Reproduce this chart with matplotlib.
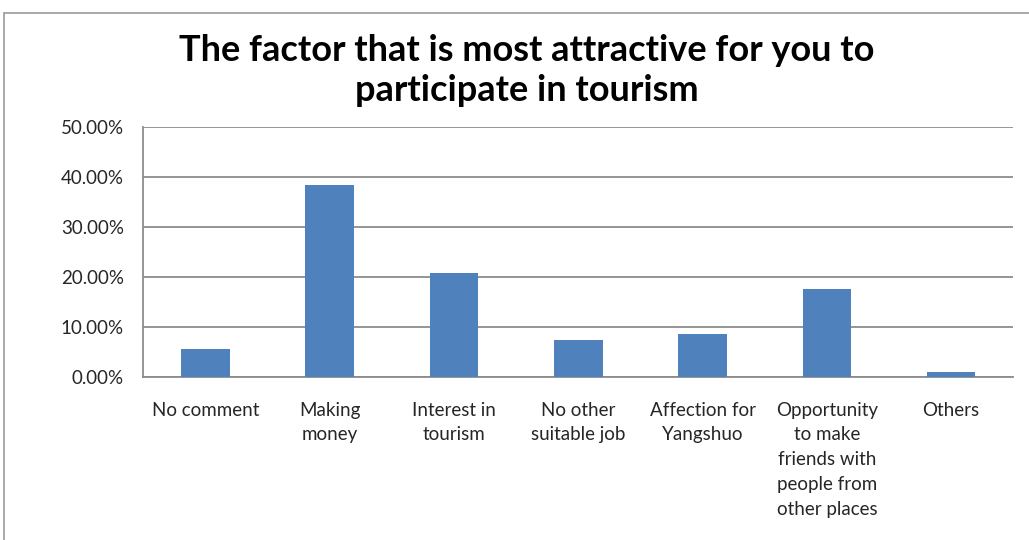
import matplotlib.pyplot as plt
from matplotlib.patches import Rectangle
from matplotlib.ticker import FuncFormatter

# survey answers, share of respondents (%)
categories = [
    "No comment",
    "Making\nmoney",
    "Interest in\ntourism",
    "No other\nsuitable job",
    "Affection for\nYangshuo",
    "Opportunity\nto make\nfriends with\npeople from\nother places",
    "Others",
]
shares = [5.5, 38.3, 20.7, 7.4, 8.6, 17.5, 1.0]
y_ticks = [0, 10, 20, 30, 40, 50]

bar_color = "#4F81BD"
grid_color = "#8C8C8C"
text_color = "#262626"
font = ["Lato", "DejaVu Sans"]

fig = plt.figure(figsize=(10.29, 5.40), dpi=100)

# chart frame
fig.patches.append(Rectangle((4 / 1029, -0.05), 1.1, 1 - 13 / 540 + 0.05,
                             transform=fig.transFigure, fill=False,
                             edgecolor="#9A9A9A", linewidth=1.2))

ax = fig.add_axes([143.3 / 1029, 1 - 376.7 / 540, 870 / 1029, 250 / 540])

x = range(len(categories))
ax.bar(x, shares, width=0.39, color=bar_color, zorder=3)

ax.set_xlim(-0.5, len(categories) - 0.5)
ax.set_ylim(0, 50)
ax.set_yticks(y_ticks)
ax.yaxis.set_major_formatter(FuncFormatter(lambda v, _: f"{v:.2f}%"))
ax.grid(axis="y", color=grid_color, linewidth=1.3, zorder=0)

for side in ["top", "right"]:
    ax.spines[side].set_visible(False)
ax.spines["left"].set_color(grid_color)
ax.spines["bottom"].set_color(grid_color)
ax.spines["left"].set_linewidth(1.3)
ax.spines["bottom"].set_linewidth(1.3)

ax.tick_params(axis="y", length=0, pad=14, labelsize=13.5,
               labelcolor=text_color)
ax.tick_params(axis="x", length=0, pad=18)
ax.set_xticks(list(x))
ax.set_xticklabels(categories, fontsize=13.5, color=text_color,
                   linespacing=1.55, va="top", family=font)
for lbl in ax.get_yticklabels():
    lbl.set_family(font)

fig.text(0.512, 0.937, "The factor that is most attractive for you to\nparticipate in tourism",
         ha="center", va="top", fontsize=26, fontweight="bold", family=font,
         color="black", linespacing=1.25)

fig.savefig("out.png", dpi=100)
